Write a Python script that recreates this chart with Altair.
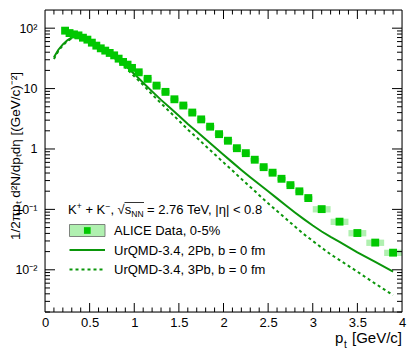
import altair as alt
import pandas as pd

# ---------------- data ----------------
pt = [0.225, 0.275, 0.325, 0.375, 0.425, 0.475, 0.525, 0.575, 0.625, 0.675,
      0.725, 0.775, 0.825, 0.875, 0.925, 0.975,
      1.05, 1.15, 1.25, 1.35, 1.45, 1.55, 1.65, 1.75, 1.85, 1.95,
      2.05, 2.15, 2.25, 2.35, 2.45, 2.55, 2.65, 2.75, 2.85, 2.95,
      3.1, 3.3, 3.5, 3.7, 3.9]
bin_half = [0.025] * 16 + [0.05] * 20 + [0.1] * 5
yields = [91, 83, 79, 76, 69.6, 64.6, 57.6, 51.4, 46.4, 42.5,
          38.9, 35.5, 31.3, 27.6, 24.9, 22.0,
          18.6, 14.5, 11.2, 8.82, 6.65, 5.24, 4.01, 3.09, 2.34, 1.76,
          1.37, 1.03, 0.853, 0.664, 0.50, 0.405, 0.321, 0.252, 0.199, 0.154,
          0.101, 0.0626, 0.0406, 0.0282, 0.0192]
sys_rel = [0.06] * 16 + [0.07] * 20 + [0.12] * 5

model_pt = [0.1, 0.15, 0.2, 0.25, 0.3, 0.35, 0.4, 0.45, 0.5, 0.6, 0.7, 0.8,
            0.9, 1.0, 1.1, 1.2, 1.3, 1.4, 1.5, 1.6, 1.7, 1.8, 1.9, 2.0, 2.1,
            2.2, 2.3, 2.4, 2.5, 2.6, 2.7, 2.8, 2.9, 3.0, 3.1, 3.2, 3.3, 3.5,
            3.7, 3.9]
urqmd_2pb = [33, 44, 54, 63, 70, 74, 74, 71, 65, 52, 41, 31.5,
             24, 17.5, 12.5, 9.0, 6.5, 4.8, 3.55, 2.6, 1.95, 1.45, 1.08, 0.8, 0.6,
             0.45, 0.34, 0.26, 0.2, 0.152, 0.116, 0.089, 0.069, 0.054, 0.043,
             0.035, 0.029, 0.0195, 0.0135, 0.0093]
urqmd_3pb = [31, 42, 52, 61, 68, 72, 73, 70, 64, 51, 40, 30,
             22.5, 16, 11.5, 8.0, 5.7, 4.1, 2.95, 2.1, 1.55, 1.12, 0.82, 0.6, 0.44,
             0.32, 0.235, 0.172, 0.126, 0.094, 0.070, 0.052, 0.039, 0.030, 0.0232,
             0.0180, 0.0145, 0.0093, 0.0059, 0.0038]

x_label_values = [0, 0.5, 1, 1.5, 2, 2.5, 3, 3.5, 4]
y_label_values = [0.01, 0.1, 1, 10, 100]
y_label_text = ["10⁻²", "10⁻¹", "1", "10", "10²"]

# ---------------- style ----------------
FONT = "Liberation Sans"
W, H = 357, 302
C_MARK = "#00c800"
C_BOX = "#b0f0b0"
C_LINE = "#0a960a"

xs = alt.Scale(domain=[0, 4], nice=False, zero=False)
ys = alt.Scale(type="log", domain=[0.002, 200], nice=False)

data_df = pd.DataFrame({
    "pt": pt, "y": yields,
    "lo": [p - h for p, h in zip(pt, bin_half)],
    "hi": [p + h for p, h in zip(pt, bin_half)],
    "ylo": [v * (1 - s) for v, s in zip(yields, sys_rel)],
    "yhi": [v * (1 + s) for v, s in zip(yields, sys_rel)],
})
model_df = pd.DataFrame({"pt": model_pt, "a": urqmd_2pb, "b": urqmd_3pb})

label_map = " : ".join(
    f"datum.value == {v} ? '{t}'" for v, t in zip(y_label_values, y_label_text)
) + " : ''"

xaxis = alt.Axis(values=x_label_values, format="~g", ticks=False, domain=False,
                 grid=False, labelFont=FONT, labelFontSize=13, labelColor="black",
                 labelPadding=4, labelFlush=False, title=None)
yaxis = alt.Axis(values=y_label_values, labelExpr=label_map, ticks=False,
                 domain=False, grid=False, labelFont=FONT, labelFontSize=12.5,
                 labelColor="black", labelPadding=8, title=None)

boxes = alt.Chart(data_df).mark_rect(color=C_BOX).encode(
    x=alt.X("lo:Q", scale=xs, axis=xaxis), x2="hi:Q",
    y=alt.Y("ylo:Q", scale=ys, axis=yaxis), y2="yhi:Q")

line_a = alt.Chart(model_df).mark_line(color=C_LINE, strokeWidth=2).encode(
    x=alt.X("pt:Q", scale=xs), y=alt.Y("a:Q", scale=ys))
line_b = alt.Chart(model_df).mark_line(color=C_LINE, strokeWidth=2,
                                       strokeDash=[3, 3]).encode(
    x=alt.X("pt:Q", scale=xs), y=alt.Y("b:Q", scale=ys))

points = alt.Chart(data_df).mark_square(color=C_MARK, size=62, opacity=1).encode(
    x=alt.X("pt:Q", scale=xs), y=alt.Y("y:Q", scale=ys))

# ---------------- frame & ticks ----------------
one = pd.DataFrame({"k": [0]})
frame = alt.Chart(one).mark_rect(fill=None, stroke="black", strokeWidth=1).encode(
    x=alt.value(0), x2=alt.value(W), y=alt.value(0), y2=alt.value(H))

x_major = [i * 0.5 for i in range(1, 8)]
x_minor = [round(i * 0.1, 1) for i in range(1, 40) if i % 5 != 0]
y_major = [0.01, 0.1, 1, 10, 100]
y_minor = [m * 10.0 ** e for e in range(-3, 3) for m in range(2, 10)
           if 0.002 <= m * 10.0 ** e < 200]


def xticks(vals, length):
    d = pd.DataFrame({"v": vals})
    b = alt.Chart(d).mark_rule(color="black", strokeWidth=1).encode(
        x=alt.X("v:Q", scale=xs), y=alt.value(H), y2=alt.value(H - length))
    t = alt.Chart(d).mark_rule(color="black", strokeWidth=1).encode(
        x=alt.X("v:Q", scale=xs), y=alt.value(0), y2=alt.value(length))
    return [b, t]


def yticks(vals, length):
    d = pd.DataFrame({"v": vals})
    l = alt.Chart(d).mark_rule(color="black", strokeWidth=1).encode(
        y=alt.Y("v:Q", scale=ys), x=alt.value(0), x2=alt.value(length))
    r = alt.Chart(d).mark_rule(color="black", strokeWidth=1).encode(
        y=alt.Y("v:Q", scale=ys), x=alt.value(W - length), x2=alt.value(W))
    return [l, r]


ticks = xticks(x_major, 9) + xticks(x_minor, 4.5) + yticks(y_major, 10) + yticks(y_minor, 5)


# ---------------- text ----------------
def txt(s, x, y, size=13, align="left", angle=0, baseline="alphabetic"):
    return alt.Chart(one).mark_text(text=s, font=FONT, fontSize=size, align=align,
                                    baseline=baseline, angle=angle,
                                    color="black").encode(
        x=alt.value(x), y=alt.value(y))


ytitle = txt("1/2πpₜ d²N/dpₜdη [(GeV/c)⁻²]", -29, 146, size=13.5,
             align="center", angle=270, baseline="middle")
xt1 = txt("p", 290, 333, size=15)
xt2 = txt("t", 299, 337.5, size=10)
xt3 = txt("[GeV/c]", W, 333, size=15, align="right")

HB = 204
hdr = [
    txt("K", 23, HB),
    txt("+", 31.8, HB - 5, size=8.5),
    txt("+ K", 40.4, HB),
    txt("−", 60.4, HB - 5, size=8.5),
    txt(",", 65.4, HB),
    txt("√", 72.4, HB),
    txt("s", 79.8, HB),
    txt("NN", 86.3, HB + 3, size=8.5),
    txt("= 2.76 TeV, |η| < 0.8", 102, HB),
]
overline = alt.Chart(one).mark_rule(color="black", strokeWidth=0.8).encode(
    x=alt.value(79.5), x2=alt.value(99), y=alt.value(HB - 11.5))

leg_box = alt.Chart(one).mark_rect(fill=C_BOX, stroke="#666666",
                                   strokeWidth=0.8).encode(
    x=alt.value(24.5), x2=alt.value(60), y=alt.value(214.5), y2=alt.value(226.5))
leg_mark = alt.Chart(one).mark_square(color=C_MARK, size=45, opacity=1).encode(
    x=alt.value(42.3), y=alt.value(220.5))
leg_l1 = alt.Chart(one).mark_rule(color=C_LINE, strokeWidth=2).encode(
    x=alt.value(24.5), x2=alt.value(60), y=alt.value(240))
leg_l2 = alt.Chart(one).mark_rule(color=C_LINE, strokeWidth=2,
                                  strokeDash=[3, 3]).encode(
    x=alt.value(24.5), x2=alt.value(60), y=alt.value(259.5))
leg_t = [
    txt("ALICE Data, 0-5%", 69, 225),
    txt("UrQMD-3.4, 2Pb, b = 0 fm", 69, 244.5),
    txt("UrQMD-3.4, 3Pb, b = 0 fm", 69, 264),
]

chart = alt.layer(
    boxes, line_a, line_b, points, frame, *ticks,
    ytitle, xt1, xt2, xt3, *hdr, overline,
    leg_box, leg_mark, leg_l1, leg_l2, *leg_t,
).properties(
    width=W, height=H,
    autosize=alt.AutoSizeParams(type="none"),
    padding={"left": 37, "top": 2, "right": 5, "bottom": 38},
).configure_view(stroke=None).configure(background="white")

chart.save("out.html", embed_options={"renderer": "svg", "actions": False})
